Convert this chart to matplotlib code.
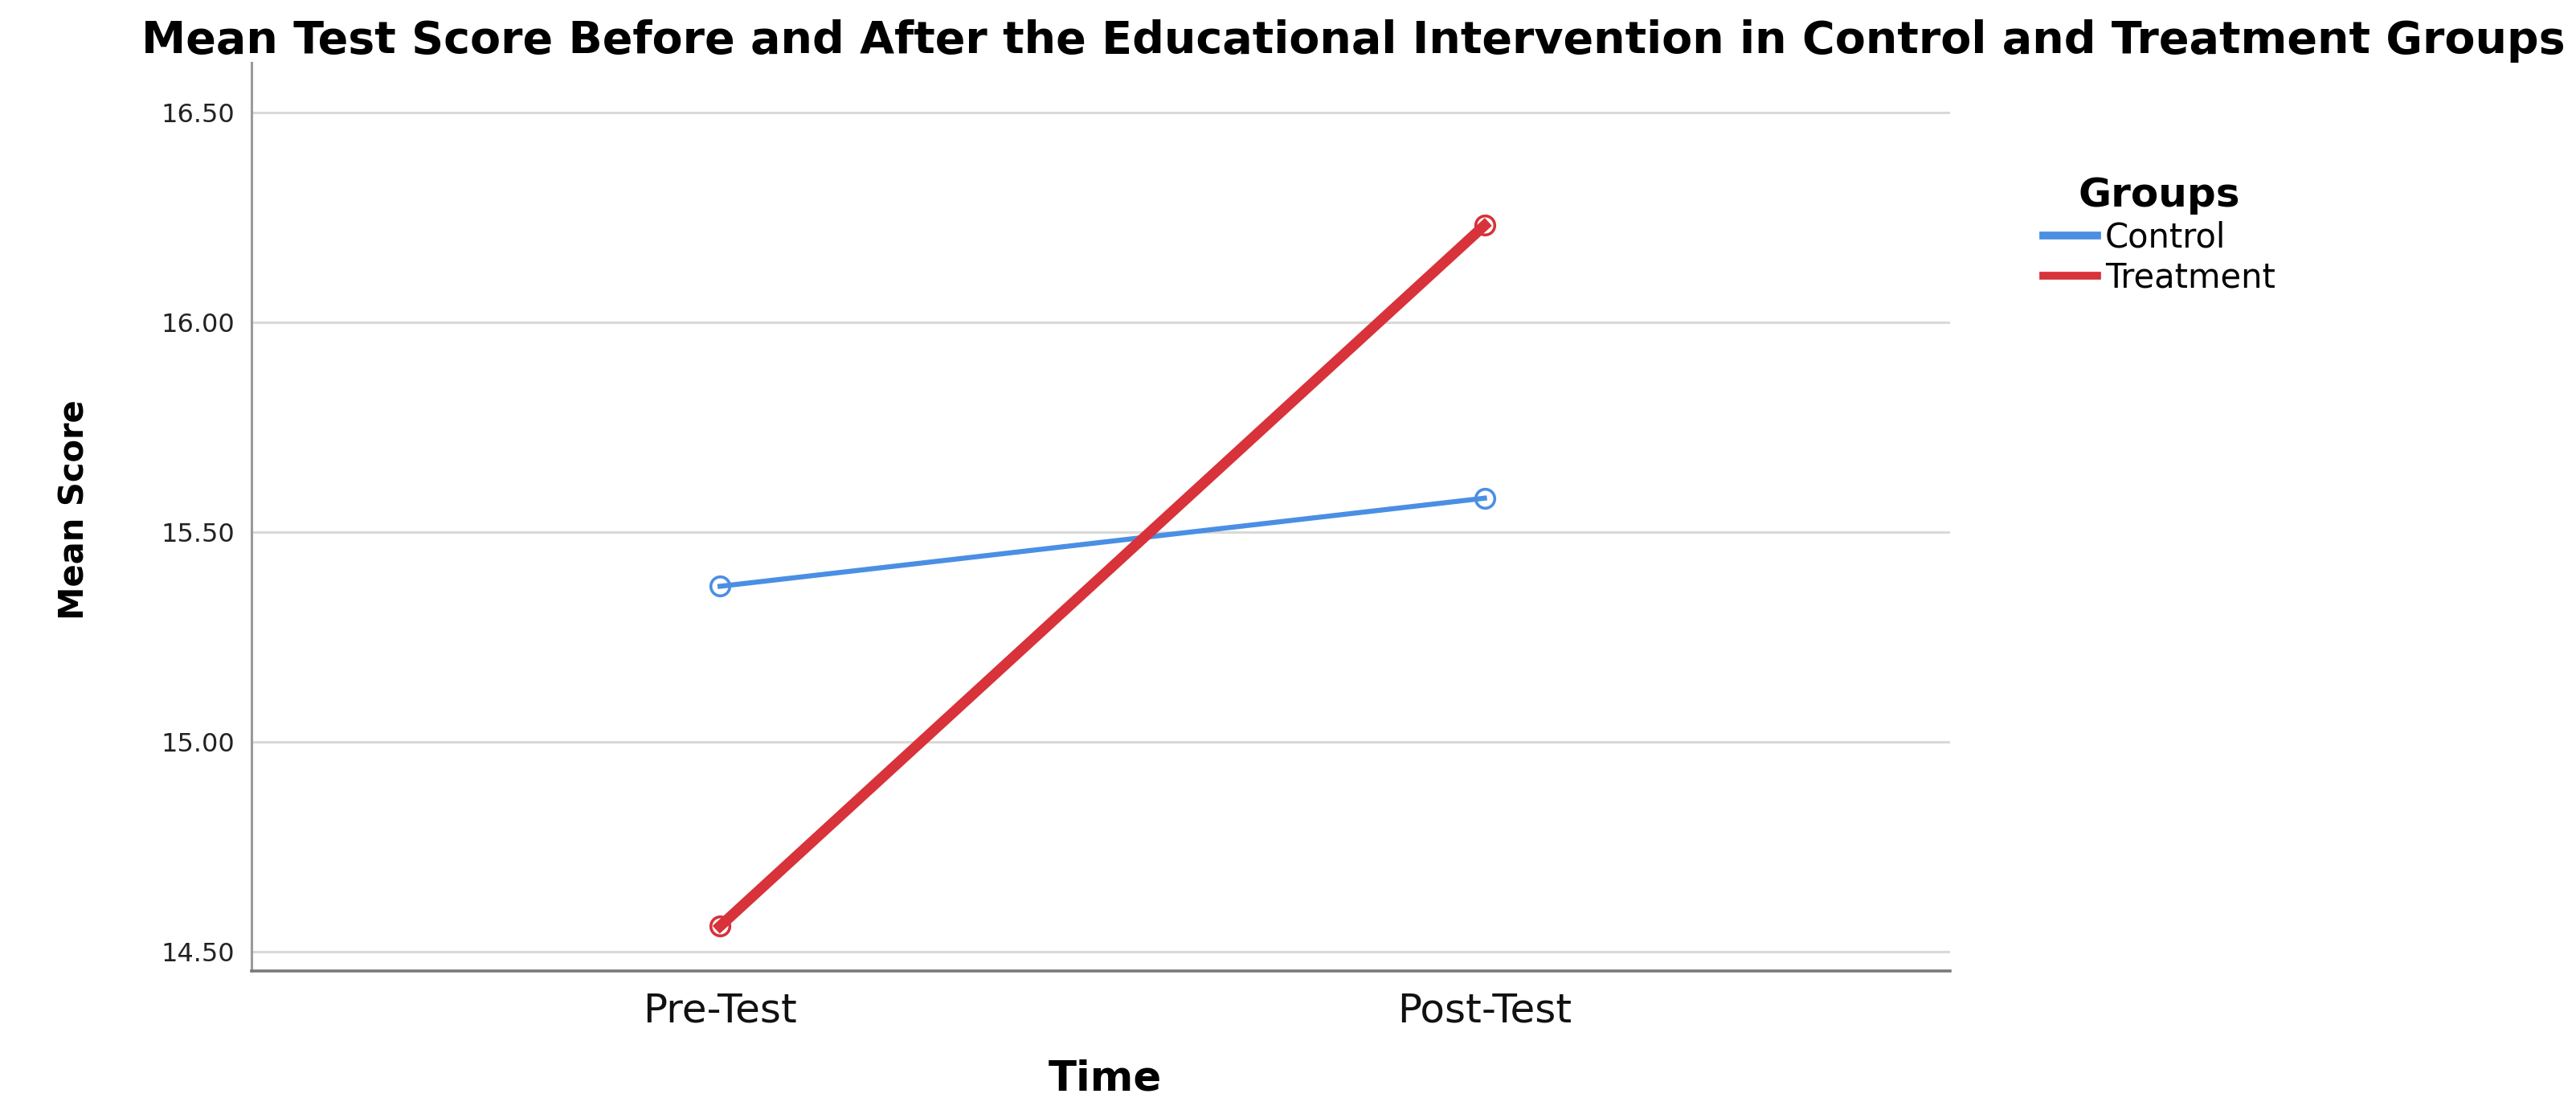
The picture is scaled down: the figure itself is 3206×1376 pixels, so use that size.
import matplotlib
matplotlib.use('Agg')
import matplotlib.pyplot as plt
from matplotlib.lines import Line2D

# Data
times = ['Pre-Test', 'Post-Test']
control_means = [15.37, 15.58]
treatment_means = [14.56, 16.23]
y_ticks = [14.50, 15.00, 15.50, 16.00, 16.50]

BLUE = '#4a8fe3'
RED = '#d8323a'
GRID = '#d9d9d9'

plt.rcParams['font.family'] = ['DejaVu Sans']

fig = plt.figure(figsize=(32.06, 13.76), dpi=100)
ax = fig.add_axes([0.0976, 0.122, 0.6594, 0.821])

x = list(range(len(times)))
ax.plot(x, control_means, color=BLUE, lw=4.5, marker='o', ms=17,
        mfc='none', mec=BLUE, mew=2.6, zorder=3)
ax.plot(x, treatment_means, color=RED, lw=9.5, marker='o', ms=17,
        mfc='none', mec=RED, mew=2.6, zorder=4)

ax.set_xlim(-0.613, 1.609)
ax.set_ylim(14.453, 16.617)
ax.set_yticks(y_ticks)
ax.set_yticklabels([f'{v:.2f}' for v in y_ticks])
ax.set_xticks(x)
ax.set_xticklabels(times)

for v in y_ticks:
    ax.axhline(v, color=GRID, lw=2.2, zorder=1)

ax.tick_params(axis='y', length=0, pad=15, labelsize=23, colors='#222222')
ax.tick_params(axis='x', length=0, pad=18, labelsize=36, colors='#111111')
for side in ('top', 'right'):
    ax.spines[side].set_visible(False)
ax.spines['left'].set_color('#9a9a9a')
ax.spines['left'].set_linewidth(2.2)
ax.spines['bottom'].set_color('#7a7a7a')
ax.spines['bottom'].set_linewidth(2.6)

fig.text(0.055, 0.963, 'Mean Test Score Before and After the Educational '
         'Intervention in Control and Treatment Groups',
         fontsize=40, fontweight='bold', ha='left', va='center')
fig.text(0.0287, 0.539, 'Mean Score', rotation=90, fontsize=30,
         fontweight='bold', ha='center', va='center')
fig.text(0.429, 0.024, 'Time', fontsize=37, fontweight='bold',
         ha='center', va='center')

handles = [Line2D([], [], color=BLUE, lw=7), Line2D([], [], color=RED, lw=7)]
leg = fig.legend(handles, ['Control', 'Treatment'], title='Groups',
                 loc='upper left', bbox_to_anchor=(0.7815, 0.868),
                 frameon=False, fontsize=30, handlelength=1.6,
                 handletextpad=0.25, labelspacing=0.18)
leg.get_title().set_fontweight('bold')
leg.get_title().set_fontsize(36)

fig.savefig('out.png', dpi=100)
